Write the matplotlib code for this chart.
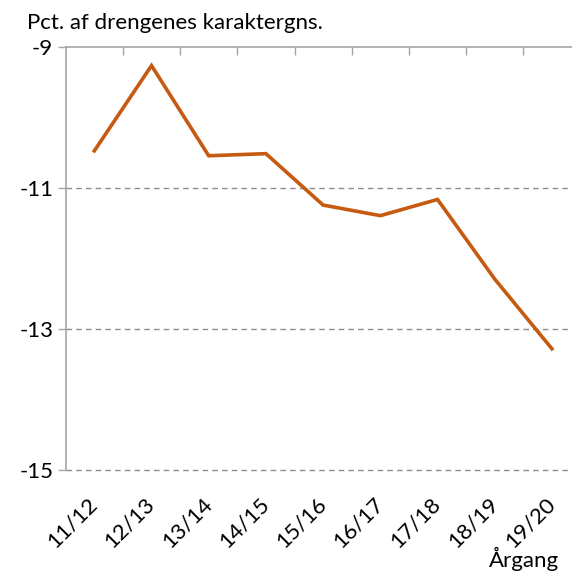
import matplotlib

matplotlib.use("Agg")
import matplotlib.pyplot as plt

# Data
aargange = ["11/12", "12/13", "13/14", "14/15", "15/16", "16/17", "17/18", "18/19", "19/20"]
pct_diff = [-10.47, -9.26, -10.54, -10.51, -11.24, -11.39, -11.16, -12.29, -13.28]
y_ticks = [-15, -13, -11, -9]

LINE_COLOR = "#C55A11"
AXIS_COLOR = "#A6A6A6"
GRID_COLOR = "#8C8C8C"

plt.rcParams["font.family"] = ["Lato", "DejaVu Sans"]


def main() -> None:
    fig = plt.figure(figsize=(5.72, 5.73), dpi=100)
    ax = fig.add_axes([0.1149, 0.1798, 0.9, 0.7377])

    x = list(range(len(aargange)))
    ax.plot(x, pct_diff, color=LINE_COLOR, linewidth=2.6, solid_joinstyle="miter", zorder=3)

    ax.set_xlim(-0.5, len(aargange) - 0.5)
    ax.set_ylim(-15, -9)

    # dashed gridlines, the bottom one stands in for the x axis
    for y in y_ticks[:-1]:
        ax.axhline(y, color=GRID_COLOR, linewidth=1, linestyle=(0, (4, 3)), zorder=1, clip_on=False)

    ax.spines["bottom"].set_visible(False)
    ax.spines["right"].set_visible(False)
    for side in ("left", "top"):
        ax.spines[side].set_color(AXIS_COLOR)
        ax.spines[side].set_linewidth(1.2)

    ax.set_yticks(y_ticks)
    ax.set_yticklabels([str(v) for v in y_ticks], fontsize=16)
    ax.tick_params(axis="y", length=6, width=1, color=AXIS_COLOR, pad=3)

    ax.set_xticks(x)
    ax.set_xticklabels(aargange, fontsize=16, rotation=45, ha="right", va="center",
                       rotation_mode="anchor")
    ax.set_xticks([i + 0.5 for i in x], minor=True)
    ax.tick_params(axis="x", which="major", length=0, pad=22)
    ax.tick_params(axis="x", which="minor", top=True, bottom=False, direction="in",
                   length=6, width=1, color=AXIS_COLOR)

    fig.text(0.048, 0.96, "Pct. af drengenes karaktergns.", fontsize=16, ha="left", va="center")
    fig.text(0.978, 0.004, "Årgang", fontsize=16, ha="right", va="bottom")

    fig.savefig("out.png", dpi=100)
    plt.close(fig)


if __name__ == "__main__":
    main()
